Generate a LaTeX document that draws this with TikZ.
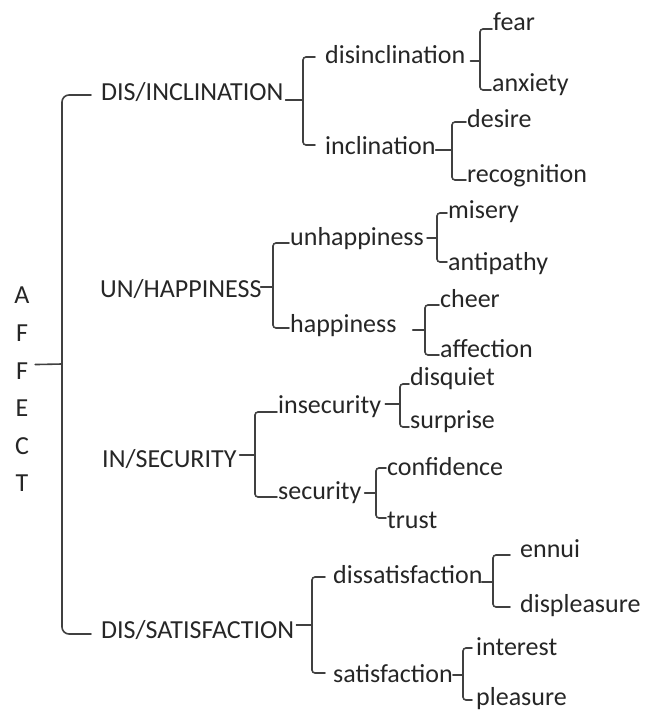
\documentclass[tikz,border=0pt]{standalone}
\usepackage{fontspec}
\setmainfont{Carlito}
\definecolor{txt}{HTML}{262626}
\definecolor{ln}{HTML}{404040}
\begin{document}
\begin{tikzpicture}[x=1pt,y=-1pt,
  lbl/.style={anchor=base west, inner sep=0pt, text=txt, font=\fontsize{26}{31}\selectfont},
  brace/.style={draw=ln, line width=1.6pt, rounded corners=3pt, line cap=round},
  bigbrace/.style={brace, rounded corners=7pt}]
\useasboundingbox (0,0) rectangle (646,712);

% root, written top to bottom
\node[anchor=north, inner sep=0pt, text=txt, align=center,
      font=\fontsize{26}{37.6}\selectfont] (affect) at (22,287) {A\\F\\F\\E\\C\\T};

% first level
\node[lbl] (DI) at (101,100) {DIS/INCLINATION};
\node[lbl] (UH) at (100,297) {UN/HAPPINESS};
\node[lbl] (IS) at (102,467) {IN/SECURITY};
\node[lbl] (DS) at (101,638) {DIS/SATISFACTION};

% second level
\node[lbl] (disincl) at (325,63)  {disinclination};
\node[lbl] (incl)    at (325,154) {inclination};
\node[lbl] (unhap)   at (290,245) {unhappiness};
\node[lbl] (hap)     at (290,332) {happiness};
\node[lbl] (insec)   at (278,413) {insecurity};
\node[lbl] (sec)     at (278,499) {security};
\node[lbl] (dissat)  at (333,583) {dissatisfaction};
\node[lbl] (sat)     at (333,682) {satisfaction};

% third level
\node[lbl] (fear)    at (493,30)  {fear};
\node[lbl] (anxiety) at (492,91)  {anxiety};
\node[lbl] (desire)  at (467,127) {desire};
\node[lbl] (recog)   at (467,182) {recognition};
\node[lbl] (misery)  at (448,218) {misery};
\node[lbl] (antip)   at (448,270) {antipathy};
\node[lbl] (cheer)   at (440,307) {cheer};
\node[lbl] (affec)   at (440,357) {affection};
\node[lbl] (disq)    at (410,385) {disquiet};
\node[lbl] (surpr)   at (410,428) {surprise};
\node[lbl] (conf)    at (387,475) {confidence};
\node[lbl] (trust)   at (387,528) {trust};
\node[lbl] (ennui)   at (520,557) {ennui};
\node[lbl] (displ)   at (520,612) {displeasure};
\node[lbl] (inter)   at (476,655) {interest};
\node[lbl] (pleas)   at (476,705) {pleasure};

% brace tips (spine x, tip y)
\coordinate (sAff)    at (62,364);
\coordinate (sDI)     at (303,100);
\coordinate (sUH)     at (273,287);
\coordinate (sIS)     at (255,455);
\coordinate (sDS)     at (312,625);
\coordinate (sDisIn)  at (480,61);
\coordinate (sIn)     at (452,150);
\coordinate (sUnh)    at (437,238);
\coordinate (sHap)    at (425,330);
\coordinate (sInsec)  at (400,404);
\coordinate (sSec)    at (376,493);
\coordinate (sDissat) at (493,582);
\coordinate (sSat)    at (463,675);

% root brace
\draw[bigbrace] ([xshift=-10pt,yshift=5pt]DI.base west) -| (sAff) |- ([xshift=-10pt,yshift=4pt]DS.base west);
\draw[brace] ([xshift=5.5pt,yshift=25pt]affect.east) -- (sAff);

% first-level braces
\draw[brace] ([xshift=-10pt,yshift=6pt]disincl.base west) -| (sDI) |- ([xshift=-10pt,yshift=9pt]incl.base west);
\draw[brace] ([xshift=2pt]DI.base east) -- (sDI);

\draw[brace] ([xshift=-1pt,yshift=2pt]unhap.base west) -| (sUH) |- ([xshift=-1pt,yshift=4pt]hap.base west);
\draw[brace] ([xshift=-1pt,yshift=10pt]UH.base east) -- (sUH);

\draw[brace] ([xshift=-1pt,yshift=1pt]insec.base west) -| (sIS) |- ([xshift=-1pt,yshift=2pt]sec.base west);
\draw[brace] ([xshift=3pt,yshift=12pt]IS.base east) -- (sIS);

\draw[brace] ([xshift=-8pt,yshift=6pt]dissat.base west) -| (sDS) |- ([xshift=-8pt,yshift=9pt]sat.base west);
\draw[brace] ([xshift=2pt,yshift=13pt]DS.base east) -- (sDS);

% second-level braces
\draw[brace] ([xshift=-1pt,yshift=1pt]fear.base west) -| (sDisIn) |- ([xshift=-1pt,yshift=1pt]anxiety.base west);
\draw[brace] ([xshift=5pt,yshift=2pt]disincl.base east) -- (sDisIn);

\draw[brace] ([xshift=-1pt,yshift=5pt]desire.base west) -| (sIn) |- ([xshift=-1pt,yshift=2pt]recog.base west);
\draw[brace] ([xshift=0pt,yshift=4pt]incl.base east) -- (sIn);

\draw[brace] ([xshift=-1pt,yshift=5pt]misery.base west) -| (sUnh) |- ([xshift=-1pt,yshift=8pt]antip.base west);
\draw[brace] ([xshift=3pt,yshift=7pt]unhap.base east) -- (sUnh);

\draw[brace] ([xshift=-1pt,yshift=2pt]cheer.base west) -| (sHap) |- ([xshift=-1pt,yshift=2pt]affec.base west);
\draw[brace] ([xshift=16pt,yshift=2pt]hap.base east) -- (sHap);

\draw[brace] ([xshift=-1pt,yshift=1pt]disq.base west) -| (sInsec) |- ([xshift=-1pt,yshift=1pt]surpr.base west);
\draw[brace] ([xshift=4pt,yshift=9pt]insec.base east) -- (sInsec);

\draw[brace] ([xshift=-1pt,yshift=7pt]conf.base west) -| (sSec) |- ([xshift=-1pt,yshift=10pt]trust.base west);
\draw[brace] ([xshift=3pt,yshift=6pt]sec.base east) -- (sSec);

\draw[brace] ([xshift=-10pt,yshift=2pt]ennui.base west) -| (sDissat) |- ([xshift=-10pt,yshift=5pt]displ.base west);
\draw[brace] ([xshift=-1pt,yshift=1pt]dissat.base east) -- (sDissat);

\draw[brace] ([xshift=-4pt,yshift=7pt]inter.base west) -| (sSat) |- ([xshift=-4pt,yshift=5pt]pleas.base west);
\draw[brace] ([xshift=0pt,yshift=7pt]sat.base east) -- (sSat);
\end{tikzpicture}
\end{document}
